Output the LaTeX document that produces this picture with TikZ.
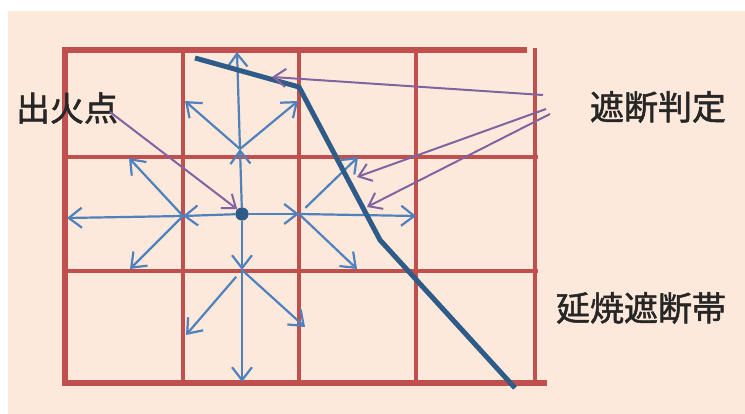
\documentclass[tikz,border=0pt]{standalone}
\usepackage{fontspec}
\newfontfamily\jpfont[FakeBold=1.5]{Noto Sans CJK JP}
\usetikzlibrary{arrows.meta}

\definecolor{bgpeach}{HTML}{FDE9DB}
\definecolor{gridred}{HTML}{C0504D}
\definecolor{spreadblue}{HTML}{4F81BD}
\definecolor{bandblue}{HTML}{2E5B88}
\definecolor{notepurple}{HTML}{8064A2}

\begin{document}
\begin{tikzpicture}[x=1pt, y=-1pt, every node/.style={font=\jpfont\fontsize{34}{40}\selectfont, text=black!85, inner sep=0pt},
	spread/.style={->, >={Straight Barb[length=13pt, width=20pt]}, spreadblue, line width=2.2pt},
	note/.style={->, >={Straight Barb[length=12pt, width=18pt]}, notepurple, line width=2pt}]
	\useasboundingbox (0,0) rectangle (745,414);
	\fill[bgpeach] (8,11) rectangle (745,414);
	% grid of cells
	\foreach \x in {183,299,416} \draw[gridred, line width=4pt] (\x,50) -- (\x,383);
	\foreach \y in {157,271} \draw[gridred, line width=4pt] (65,\y) -- (538,\y);
	\draw[gridred, line width=4pt] (535,48) -- (535,383);
	\draw[gridred, line width=6pt] (527,50) -- (65,50) -- (65,383) -- (547,383);
	% spread from the fire point
	\coordinate (U) at (240,149);
	\coordinate (L) at (183,216);
	\coordinate (R) at (299,214);
	\coordinate (D) at (242,270);
	\foreach \n/\x/\y in {u1/237/52, u2/185/101, u3/298/101, l1/67/218, l2/129/158, l3/130/269,
		r1/416/216, r2/358/157, r3/357/269, d1/242/382, d2/186/335, d3/305/327}
		\coordinate (\n) at (\x,\y);
	\node[circle, fill=bandblue, minimum size=13pt] (F) at (242,214) {};
	\foreach \a/\b in {F/U, F/L, F/R, F/D, U/u1, U/u2, U/u3, L/l1, L/l2, L/l3,
		R/r1, R/r3, D/d1, D/d3}
		\draw[spread] (\a) -- (\b);
	\draw[spread, shorten <=9pt] (R) -- (r2);
	\draw[spread, shorten <=9pt] (D) -- (d2);
	% cut-off band
	\coordinate (b0) at (195,58);
	\coordinate (b1) at (299,87);
	\coordinate (b2) at (380,240);
	\coordinate (b3) at (515,388);
	\draw[bandblue, line width=5pt, line join=round] (b0) -- (b1) -- (b2) -- (b3);
	\node[circle, fill=bandblue, minimum size=13pt] at (F) {};
	% labels
	\node (fire) at (67,108) {出火点};
	\node (judge) at (658,107) {遮断判定};
	\node (band) at (641,308) {延焼遮断帯};
	\coordinate (f0) at (110,112);
	\coordinate (j1) at (543,95);
	\coordinate (j2) at (546,109);
	\coordinate (j3) at (550,114);
	\coordinate (c1) at (272,77);
	\coordinate (c2) at (357,177);
	\coordinate (c3) at (367,207);
	\draw[note] (f0) -- (F.north west);
	\draw[note] (j1) -- (c1);
	\draw[note] (j2) -- (c2);
	\draw[note] (j3) -- (c3);
\end{tikzpicture}
\end{document}
